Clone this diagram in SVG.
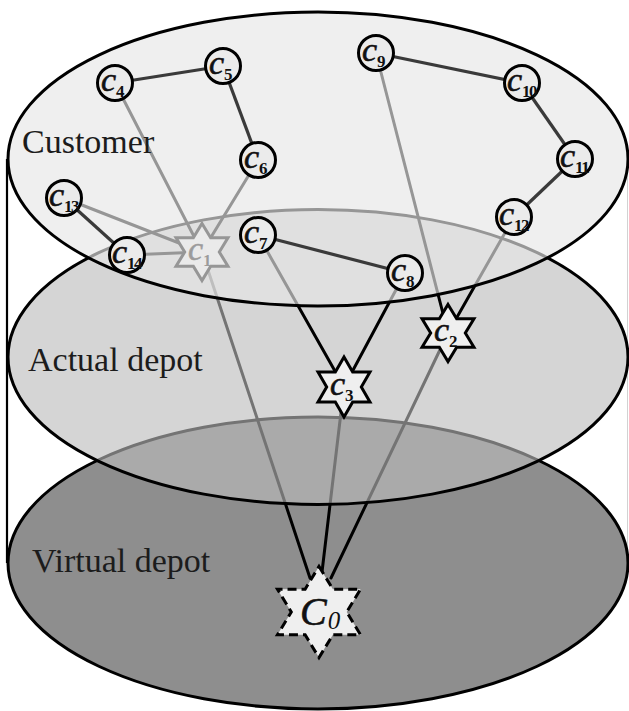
<svg xmlns="http://www.w3.org/2000/svg" xmlns:xlink="http://www.w3.org/1999/xlink" width="629" height="711" viewBox="0 0 629 711">
  <style>
    .ell { stroke: #000; stroke-width: 3; }
    .lay-bot { fill: #8e8e8e; }
    .lay-mid { fill: #bbbbbb; fill-opacity: 0.62; }
    .lay-top { fill: #e7e7e7; fill-opacity: 0.65; }
    .route { stroke: #000; stroke-width: 3; fill: none; stroke-linecap: round; }
    .tour { stroke: #3a3a3a; stroke-width: 3.2; fill: none; }
    .cust circle { fill: #ebebeb; stroke: #000; stroke-width: 3; }
    .star { fill: #efefef; stroke: #000; stroke-width: 3; stroke-linejoin: miter; }
    .virtual { stroke-dasharray: 9 5; }
    .lbl { font-family: "Liberation Serif", "Times New Roman", serif; font-style: italic; font-size: 34px; fill: #111; stroke: #111; stroke-width: 0.6; }
    .sub { font-size: 17px; font-style: normal; font-weight: bold; stroke-width: 0; }
    .c0 { font-size: 40px; }
    .c0 .sub { font-size: 25px; font-style: italic; font-weight: normal; }
    .layer-name { font-family: "Liberation Serif", "Times New Roman", serif; font-size: 34px; fill: #1c1c1c; }
  </style>
  <defs>
    <!-- six-pointed star, outer radius 30 -->
    <path id="hex" vector-effect="non-scaling-stroke" d="M0,-30 L8.66,-15 L25.98,-15 L17.32,0 L25.98,15 L8.66,15 L0,30 L-8.66,15 L-25.98,15 L-17.32,0 L-25.98,-15 L-8.66,-15 Z"/>
  </defs>

  <!-- cylinder sides -->
  <line x1="7" y1="159" x2="7" y2="563" stroke="#000" stroke-width="2.2"/>
  <line x1="627.5" y1="159" x2="627.5" y2="563" stroke="#d2d2d2" stroke-width="1"/>

  <!-- virtual depot layer -->
  <g id="layer-virtual">
    <ellipse class="ell lay-bot" cx="318" cy="563" rx="310" ry="146"/>
  </g>

  <!-- routes from the virtual depot, seen through the upper layers -->
  <g id="connectors-depot">
    <line class="route" x1="202" y1="252" x2="310" y2="578"/>
    <line class="route" x1="344" y1="387" x2="322" y2="572"/>
    <line class="route" x1="448" y1="333" x2="331" y2="578"/>
  </g>

  <!-- actual depot layer -->
  <g id="layer-actual">
    <ellipse class="ell lay-mid" cx="318" cy="357" rx="310" ry="147.5"/>
  </g>

  <!-- routes from customers to actual depots -->
  <g id="connectors-actual">
    <line class="route" x1="115" y1="83" x2="202" y2="252"/>
    <line class="route" x1="258" y1="160" x2="202" y2="252"/>
    <line class="route" x1="64" y1="198" x2="202" y2="252"/>
    <line class="route" x1="127" y1="255" x2="202" y2="252"/>
    <line class="route" x1="258" y1="235" x2="344" y2="387"/>
    <line class="route" x1="405" y1="273" x2="344" y2="387"/>
    <line class="route" x1="376" y1="53" x2="448" y2="333"/>
    <line class="route" x1="514" y1="217" x2="448" y2="333"/>
  </g>

  <!-- actual depots -->
  <g id="c1">
    <use xlink:href="#hex" class="star" transform="translate(202,252) scale(1.0,0.95)"/>
    <text class="lbl" x="188" y="260">c<tspan class="sub" dy="6">1</tspan></text>
  </g>
  <g id="c2">
    <use xlink:href="#hex" class="star" transform="translate(448,333) scale(1.0,0.95)"/>
    <text class="lbl" x="434" y="341">c<tspan class="sub" dy="6">2</tspan></text>
  </g>
  <g id="c3">
    <use xlink:href="#hex" class="star" transform="translate(344,387)"/>
    <text class="lbl" x="330" y="395">c<tspan class="sub" dy="6">3</tspan></text>
  </g>

  <!-- virtual depot -->
  <g id="c0">
    <use xlink:href="#hex" class="star virtual" transform="translate(319,612) scale(1.6,1.52)"/>
    <text class="lbl c0" x="300" y="625">C<tspan class="sub" dx="1" dy="4">0</tspan></text>
  </g>

  <!-- customer layer -->
  <g id="layer-customer">
    <ellipse class="ell lay-top" cx="318" cy="159" rx="310" ry="147"/>
  </g>

  <!-- customer-to-customer tours -->
  <g id="connectors-customer">
    <line class="tour" x1="115" y1="83" x2="223" y2="66"/>
    <line class="tour" x1="223" y1="66" x2="258" y2="160"/>
    <line class="tour" x1="376" y1="53" x2="522" y2="83"/>
    <line class="tour" x1="522" y1="83" x2="575" y2="159"/>
    <line class="tour" x1="575" y1="159" x2="514" y2="217"/>
    <line class="tour" x1="64" y1="198" x2="127" y2="255"/>
    <line class="tour" x1="258" y1="235" x2="405" y2="273" stroke="#1e1e1e"/>
  </g>

  <!-- customers -->
  <g id="c4" class="cust"><circle cx="115" cy="83" r="17.5"/><text class="lbl" x="101" y="91">c<tspan class="sub" dy="6">4</tspan></text></g>
  <g id="c5" class="cust"><circle cx="223" cy="66" r="17.5"/><text class="lbl" x="209" y="74">c<tspan class="sub" dy="6">5</tspan></text></g>
  <g id="c6" class="cust"><circle cx="258" cy="160" r="17.5"/><text class="lbl" x="244" y="168">c<tspan class="sub" dy="6">6</tspan></text></g>
  <g id="c9" class="cust"><circle cx="376" cy="53" r="17.5"/><text class="lbl" x="362" y="61">c<tspan class="sub" dy="6">9</tspan></text></g>
  <g id="c10" class="cust"><circle cx="522" cy="83" r="17.5"/><text class="lbl" x="507" y="91">c<tspan class="sub" dy="6" letter-spacing="-1.5">10</tspan></text></g>
  <g id="c11" class="cust"><circle cx="575" cy="159" r="17.5"/><text class="lbl" x="560" y="167">c<tspan class="sub" dy="6" letter-spacing="-1.5">11</tspan></text></g>
  <g id="c12" class="cust"><circle cx="514" cy="217" r="17.5"/><text class="lbl" x="499" y="225">c<tspan class="sub" dy="6" letter-spacing="-1.5">12</tspan></text></g>
  <g id="c13" class="cust"><circle cx="64" cy="198" r="17.5"/><text class="lbl" x="49" y="206">c<tspan class="sub" dy="6" letter-spacing="-1.5">13</tspan></text></g>
  <g id="c14" class="cust"><circle cx="127" cy="255" r="17.5"/><text class="lbl" x="112" y="263">c<tspan class="sub" dy="6" letter-spacing="-1.5">14</tspan></text></g>
  <g id="c7" class="cust"><circle cx="258" cy="235" r="17.5"/><text class="lbl" x="244" y="243">c<tspan class="sub" dy="6">7</tspan></text></g>
  <g id="c8" class="cust"><circle cx="405" cy="273" r="17.5"/><text class="lbl" x="391" y="281">c<tspan class="sub" dy="6">8</tspan></text></g>

  <!-- layer names -->
  <g id="layer-names">
    <text class="layer-name" x="22" y="153">Customer</text>
    <text class="layer-name" x="28" y="371">Actual depot</text>
    <text class="layer-name" x="32" y="572">Virtual depot</text>
  </g>
</svg>
